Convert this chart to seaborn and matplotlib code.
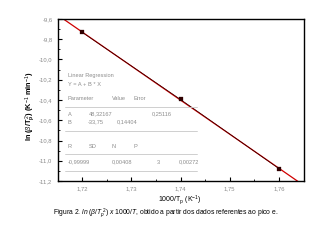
import matplotlib
matplotlib.use("Agg")
import matplotlib.pyplot as plt
import seaborn as sns
import numpy as np
import pandas as pd
from matplotlib.ticker import MultipleLocator, FuncFormatter
from matplotlib.lines import Line2D

# data
x_vals = [1.72, 1.74, 1.76]
y_vals = [-9.731, -10.395, -11.077]
A_val, B_val = 48.32167, -33.75
x_ticks = [1.72, 1.73, 1.74, 1.75, 1.76]
y_ticks = [-9.6, -9.8, -10.0, -10.2, -10.4, -10.6, -10.8, -11.0, -11.2]

reg_header = ["Linear Regression", "Y = A + B * X"]
param_cols = ["Parameter", "Value", "Error"]
row_a = ["A", "48,32167", "0,25116"]
row_b = ["B", "-33,75", "0,14404"]
stat_cols = ["R", "SD", "N", "P"]
stat_vals = ["-0,99999", "0,00408", "3", "0,00272"]

sns.set_style("ticks")
plt.rcParams['font.family'] = ['Liberation Sans', 'DejaVu Sans']
plt.rcParams['mathtext.fontset'] = 'custom'
plt.rcParams['mathtext.rm'] = 'Liberation Sans'
plt.rcParams['mathtext.it'] = 'Liberation Sans:italic'
plt.rcParams['mathtext.bf'] = 'Liberation Sans:bold'

W, H = 330, 240
fig = plt.figure(figsize=(3.3, 2.4), dpi=100)
ax = fig.add_axes([58/W, 1-181/H, (304-58)/W, (181-19)/H])
ax.set_xlim(1.7151, 1.7651)
ax.set_ylim(-11.2, -9.6)

df = pd.DataFrame({"x": x_vals, "y": y_vals})
# regression line (red), extended across axes
sns.regplot(data=df, x="x", y="y", ax=ax, scatter=False, ci=None, truncate=False,
            line_kws=dict(color="#d00000", lw=0.9, zorder=2))
sns.lineplot(data=df, x="x", y="y", ax=ax, color="#2a0000", lw=0.5, zorder=3)
sns.scatterplot(data=df, x="x", y="y", ax=ax, marker="s", s=6, color="#300000",
                edgecolor="#300000", linewidth=0.2, zorder=4)
ax.set_xlim(1.7151, 1.7651)
ax.set_ylim(-11.2, -9.6)

ax.set_xticks(x_ticks)
ax.set_yticks(y_ticks)
ax.xaxis.set_minor_locator(MultipleLocator(0.005))
ax.yaxis.set_minor_locator(MultipleLocator(0.1))
ax.xaxis.set_major_formatter(FuncFormatter(lambda v, p: f"{v:.2f}".replace(".", ",")))
ax.yaxis.set_major_formatter(FuncFormatter(lambda v, p: f"{v:.1f}".replace(".", ",")))
ax.tick_params(which="major", direction="in", length=3, width=0.8, labelsize=4.2,
               labelcolor="#8a8a8a", color="black", pad=4)
ax.tick_params(which="minor", direction="in", length=1.5, width=0.6, color="black")
for s in ax.spines.values():
    s.set_linewidth(1.0)
    s.set_color("black")

ax.set_xlabel("")
ax.set_ylabel("")
fig.text(180/W, 1-200/H, r"1000/T$_\mathregular{p}$ (K$^{-1}$)", ha="center", va="center",
         fontsize=5, color="black")
fig.text(30/W, 1-106/H, r"ln ($\beta$/T$_\mathregular{p}^{\ 2}$) (K$^{-1}$ min$^{-1}$)",
         ha="center", va="center", rotation=90, fontsize=5.2, color="black", fontweight="bold")
fig.text(166/W, 1-213.5/H,
         r"Figura 2. $\mathit{ln\ (\beta/T_{p}^{\ 2})\ x\ 1000/T}$, obtido a partir dos dados referentes ao pico e.",
         ha="center", va="center", fontsize=4.9, color="black")

# regression info box
tc = "#8c8c8c"
fs = 4.1
def t(x, y, s):
    fig.text(x/W, 1-y/H, s, ha="left", va="center", fontsize=fs, color=tc)

t(68, 76, reg_header[0])
t(68, 84, reg_header[1])
for xx, s in zip([68, 112, 134], param_cols):
    t(xx, 99, s)
for xx, s in zip([68, 89, 152], row_a):
    t(xx, 114, s)
for xx, s in zip([68, 88, 117], row_b):
    t(xx, 122, s)
for xx, s in zip([68, 89, 112, 134], stat_cols):
    t(xx, 147, s)
for xx, s in zip([68, 112, 157, 179], stat_vals):
    t(xx, 162, s)
for yy in [107, 131, 154, 171]:
    fig.add_artist(Line2D([65/W, 197/W], [1-yy/H, 1-yy/H], color="#c8c8c8", lw=0.6))

fig.savefig("out.png", dpi=100)
